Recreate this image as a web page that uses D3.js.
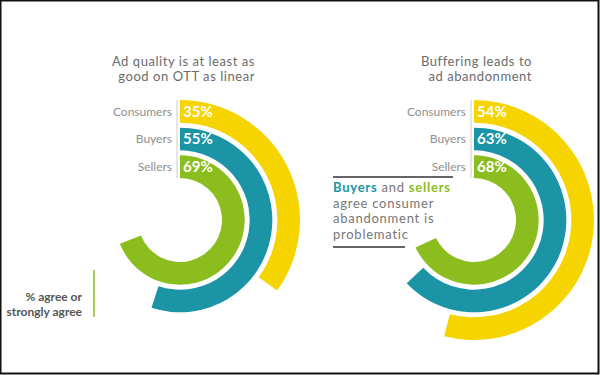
<!DOCTYPE html>
<html>
<head>
<meta charset="utf-8">
<script src="https://cdn.jsdelivr.net/npm/d3@7"></script>
<style>
  html, body { margin: 0; padding: 0; background: #fff; }
  svg { display: block; font-family: Lato, "Open Sans", sans-serif; }
</style>
</head>
<body>
<div id="chart"></div>
<script>
// data
const categories = ['Consumers', 'Buyers', 'Sellers'];
const qualityValues = [35, 55, 69];
const bufferingValues = [54, 63, 68];
const qualityTitle = ['Ad quality is at least as', 'good on OTT as linear'];
const bufferingTitle = ['Buffering leads to', 'ad abandonment'];
const noteLines = ['agree consumer', 'abandonment is', 'problematic'];
const legendLines = ['% agree or', 'strongly agree'];

const colors = { Consumers: '#f5d400', Buyers: '#1b95a6', Sellers: '#8cbd1e' };

const width = 600, height = 375;

const svg = d3.select('#chart').append('svg')
    .attr('width', width)
    .attr('height', height);

svg.append('rect')
    .attr('x', 0.5).attr('y', 0.5)
    .attr('width', width - 2).attr('height', height - 2)
    .attr('fill', '#fff')
    .attr('stroke', '#111')
    .attr('stroke-width', 2);

const angle = d3.scaleLinear().domain([0, 100]).range([0, 2 * Math.PI]);
const radius = d3.scaleBand().domain(categories).range([120, 42]).paddingInner(0.18);

const arc = d3.arc()
    .innerRadius(d => radius(d.cat))
    .outerRadius(d => radius(d.cat) + radius.bandwidth())
    .startAngle(0)
    .endAngle(d => angle(d.value));

function drawRadial(cx, cy, values, title, titleRight) {
    const g = svg.append('g').attr('transform', `translate(${cx},${cy})`);
    const rows = categories.map((c, i) => ({ cat: c, value: values[i] }));

    g.selectAll('path.bar')
        .data(rows)
        .join('path')
        .attr('class', 'bar')
        .attr('d', arc)
        .attr('fill', d => colors[d.cat]);

    // thin divider between labels and bars
    g.append('line')
        .attr('x1', -3).attr('x2', -3)
        .attr('y1', -120).attr('y2', -42)
        .attr('stroke', '#ccc')
        .attr('stroke-width', 1);

    const mid = d => -(radius(d.cat) + radius.bandwidth() / 2);

    g.selectAll('text.cat')
        .data(rows)
        .join('text')
        .attr('class', 'cat')
        .attr('x', -8)
        .attr('y', mid)
        .attr('dy', '0.35em')
        .attr('text-anchor', 'end')
        .attr('font-size', 12)
        .attr('fill', '#8f8f8f')
        .text(d => d.cat);

    g.selectAll('text.pct')
        .data(rows)
        .join('text')
        .attr('class', 'pct')
        .attr('x', 3)
        .attr('y', mid)
        .attr('dy', '0.36em')
        .attr('font-size', 15)
        .attr('font-weight', 'bold')
        .attr('fill', '#fff')
        .text(d => d.value + '%');

    g.selectAll('text.title')
        .data(title)
        .join('text')
        .attr('class', 'title')
        .attr('x', titleRight)
        .attr('y', (d, i) => -159 + i * 15.6)
        .attr('dy', '0.35em')
        .attr('text-anchor', 'end')
        .attr('font-size', 13)
        .attr('letter-spacing', 0.55)
        .attr('fill', '#6b6b6b')
        .text(d => d);
}

drawRadial(180, 220, qualityValues, qualityTitle, 75);
drawRadial(474, 220, bufferingValues, bufferingTitle, 58);

// legend note bottom left
svg.append('line')
    .attr('x1', 94).attr('x2', 94)
    .attr('y1', 270).attr('y2', 317)
    .attr('stroke', colors.Sellers)
    .attr('stroke-width', 1.5);

svg.selectAll('text.legend')
    .data(legendLines)
    .join('text')
    .attr('class', 'legend')
    .attr('x', 82)
    .attr('y', (d, i) => 297 + i * 14.5)
    .attr('dy', '0.35em')
    .attr('text-anchor', 'end')
    .attr('font-size', 12)
    .attr('font-weight', 'bold')
    .attr('fill', '#555')
    .text(d => d);

// annotation on the right chart
svg.append('line')
    .attr('x1', 333).attr('x2', 453)
    .attr('y1', 177).attr('y2', 177)
    .attr('stroke', '#666').attr('stroke-width', 2);

svg.append('line')
    .attr('x1', 333).attr('x2', 405)
    .attr('y1', 247).attr('y2', 247)
    .attr('stroke', '#666').attr('stroke-width', 2);

const note = svg.append('g')
    .attr('font-size', 13)
    .attr('letter-spacing', 0.75);

const first = note.append('text')
    .attr('x', 333).attr('y', 187.5).attr('dy', '0.35em');
first.append('tspan').attr('font-weight', 'bold').attr('fill', colors.Buyers).text('Buyers');
first.append('tspan').attr('fill', '#777').text(' and ');
first.append('tspan').attr('font-weight', 'bold').attr('fill', colors.Sellers).text('sellers');

note.selectAll('text.line')
    .data(noteLines)
    .join('text')
    .attr('class', 'line')
    .attr('x', 333)
    .attr('y', (d, i) => 203.1 + i * 15.6)
    .attr('dy', '0.35em')
    .attr('fill', '#777')
    .text(d => d);
</script>
</body>
</html>
